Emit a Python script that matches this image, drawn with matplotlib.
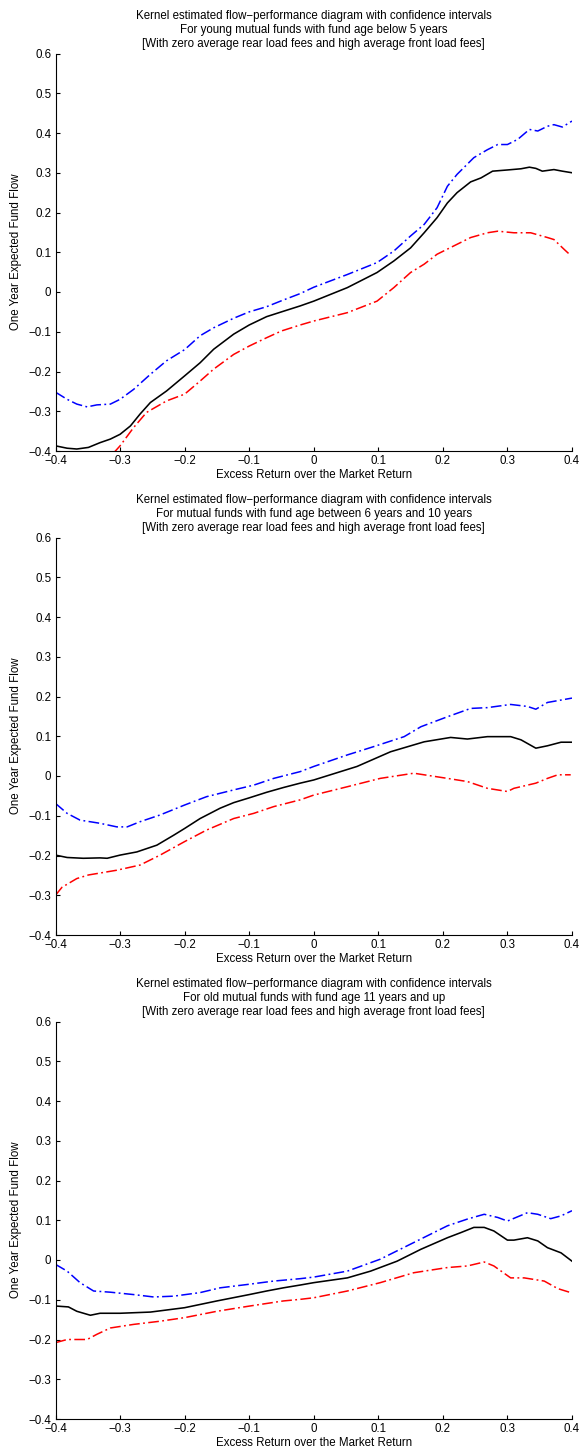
import matplotlib
matplotlib.use("Agg")
import matplotlib.pyplot as plt

plt.rcParams['font.family'] = ['Liberation Sans', 'DejaVu Sans']

# ---- data -------------------------------------------------------------
young_mid_x = [-0.400, -0.382, -0.367, -0.349, -0.331, -0.315, -0.300, -0.284, -0.269, -0.253,
               -0.228, -0.200, -0.176, -0.155, -0.124, -0.100, -0.073, -0.050, -0.021, 0.000,
               0.052, 0.098, 0.124, 0.150, 0.171, 0.191, 0.207, 0.222, 0.243, 0.259,
               0.277, 0.300, 0.321, 0.334, 0.344, 0.354, 0.372, 0.385, 0.400]
young_mid_y = [-0.387, -0.393, -0.395, -0.391, -0.379, -0.370, -0.358, -0.337, -0.307, -0.278,
               -0.249, -0.211, -0.178, -0.144, -0.106, -0.083, -0.062, -0.050, -0.035, -0.023,
               0.011, 0.049, 0.078, 0.111, 0.149, 0.187, 0.224, 0.250, 0.277, 0.287,
               0.304, 0.307, 0.310, 0.314, 0.311, 0.304, 0.308, 0.304, 0.300]
young_up_x = [-0.400, -0.382, -0.367, -0.351, -0.336, -0.315, -0.300, -0.279, -0.253, -0.228,
              -0.200, -0.176, -0.155, -0.124, -0.100, -0.073, -0.050, -0.021, 0.000, 0.052,
              0.098, 0.124, 0.150, 0.171, 0.191, 0.207, 0.222, 0.248, 0.269, 0.285,
              0.300, 0.316, 0.334, 0.347, 0.362, 0.372, 0.385, 0.400]
young_up_y = [-0.252, -0.270, -0.282, -0.289, -0.284, -0.282, -0.270, -0.245, -0.207, -0.173,
              -0.145, -0.110, -0.090, -0.066, -0.050, -0.037, -0.022, -0.004, 0.012, 0.044,
              0.074, 0.103, 0.141, 0.170, 0.212, 0.266, 0.296, 0.338, 0.358, 0.371,
              0.371, 0.384, 0.409, 0.405, 0.417, 0.421, 0.415, 0.430]
young_lo_x = [-0.310, -0.300, -0.279, -0.259, -0.228, -0.200, -0.176, -0.155, -0.124, -0.100,
              -0.073, -0.050, -0.021, 0.000, 0.052, 0.098, 0.124, 0.150, 0.171, 0.191,
              0.217, 0.243, 0.269, 0.285, 0.310, 0.336, 0.362, 0.372, 0.388, 0.396]
young_lo_y = [-0.405, -0.387, -0.341, -0.303, -0.274, -0.257, -0.224, -0.194, -0.157, -0.136,
              -0.115, -0.098, -0.083, -0.073, -0.052, -0.023, 0.011, 0.049, 0.070, 0.095,
              0.116, 0.137, 0.149, 0.153, 0.149, 0.149, 0.137, 0.132, 0.107, 0.095]

middle_mid_x = [-0.400, -0.382, -0.357, -0.331, -0.320, -0.300, -0.274, -0.243, -0.217, -0.200,
                -0.176, -0.145, -0.124, -0.100, -0.073, -0.047, -0.021, 0.000, 0.067, 0.119,
                0.171, 0.212, 0.238, 0.269, 0.305, 0.321, 0.344, 0.362, 0.383, 0.400]
middle_mid_y = [-0.199, -0.205, -0.207, -0.206, -0.207, -0.199, -0.191, -0.174, -0.149, -0.132,
                -0.107, -0.081, -0.067, -0.055, -0.041, -0.029, -0.018, -0.010, 0.024, 0.061,
                0.086, 0.097, 0.093, 0.099, 0.099, 0.091, 0.070, 0.076, 0.085, 0.085]
middle_up_x = [-0.400, -0.382, -0.362, -0.331, -0.305, -0.289, -0.269, -0.238, -0.200, -0.166,
               -0.124, -0.093, -0.062, -0.021, 0.000, 0.052, 0.093, 0.140, 0.166, 0.207,
               0.243, 0.269, 0.305, 0.331, 0.344, 0.362, 0.400]
middle_up_y = [-0.069, -0.094, -0.111, -0.119, -0.128, -0.128, -0.115, -0.098, -0.073, -0.052,
               -0.035, -0.023, -0.006, 0.011, 0.024, 0.053, 0.074, 0.099, 0.124, 0.149,
               0.170, 0.172, 0.180, 0.175, 0.168, 0.185, 0.196]
middle_lo_x = [-0.400, -0.390, -0.367, -0.349, -0.305, -0.269, -0.238, -0.200, -0.166, -0.124,
               -0.093, -0.062, -0.021, 0.000, 0.052, 0.103, 0.155, 0.207, 0.238, 0.269,
               0.300, 0.310, 0.344, 0.362, 0.378, 0.398]
middle_lo_y = [-0.300, -0.280, -0.258, -0.249, -0.237, -0.224, -0.199, -0.165, -0.136, -0.107,
               -0.094, -0.077, -0.060, -0.048, -0.027, -0.006, 0.007, -0.006, -0.014, -0.031,
               -0.039, -0.031, -0.018, -0.006, 0.003, 0.003]

old_mid_x = [-0.398, -0.380, -0.367, -0.346, -0.331, -0.300, -0.253, -0.200, -0.150, -0.100,
             -0.073, -0.047, -0.021, 0.000, 0.052, 0.088, 0.129, 0.166, 0.207, 0.228,
             0.248, 0.264, 0.279, 0.300, 0.310, 0.331, 0.347, 0.362, 0.383, 0.400]
old_mid_y = [-0.116, -0.118, -0.129, -0.139, -0.134, -0.134, -0.131, -0.120, -0.103, -0.087,
             -0.078, -0.070, -0.063, -0.057, -0.045, -0.028, -0.003, 0.027, 0.056, 0.069,
             0.082, 0.082, 0.073, 0.050, 0.050, 0.056, 0.048, 0.031, 0.018, -0.003]
old_up_x = [-0.400, -0.382, -0.362, -0.341, -0.315, -0.279, -0.248, -0.217, -0.176, -0.145,
            -0.100, -0.062, -0.021, 0.000, 0.052, 0.103, 0.155, 0.207, 0.238, 0.264,
            0.285, 0.300, 0.331, 0.347, 0.367, 0.383, 0.400]
old_up_y = [-0.011, -0.028, -0.057, -0.078, -0.081, -0.087, -0.093, -0.091, -0.082, -0.070,
            -0.061, -0.053, -0.047, -0.043, -0.028, 0.002, 0.044, 0.086, 0.103, 0.115,
            0.107, 0.098, 0.119, 0.115, 0.104, 0.111, 0.124]
old_lo_x = [-0.400, -0.382, -0.351, -0.336, -0.315, -0.279, -0.238, -0.200, -0.150, -0.100,
            -0.047, -0.021, 0.000, 0.052, 0.103, 0.155, 0.207, 0.238, 0.264, 0.279,
            0.305, 0.326, 0.357, 0.378, 0.398]
old_lo_y = [-0.208, -0.200, -0.200, -0.187, -0.171, -0.162, -0.154, -0.145, -0.129, -0.116,
            -0.103, -0.099, -0.095, -0.078, -0.057, -0.032, -0.019, -0.015, -0.005, -0.015,
            -0.045, -0.045, -0.053, -0.072, -0.082]

titles = [
    "Kernel estimated flow\u2212performance diagram with confidence intervals\n"
    "For young mutual funds with fund age below 5 years\n"
    "[With zero average rear load fees and high average front load fees]",
    "Kernel estimated flow\u2212performance diagram with confidence intervals\n"
    "For mutual funds with fund age between 6 years and 10 years\n"
    "[With zero average rear load fees and high average front load fees]",
    "Kernel estimated flow\u2212performance diagram with confidence intervals\n"
    "For old mutual funds with fund age 11 years and up\n"
    "[With zero average rear load fees and high average front load fees]",
]
x_label = "Excess Return over the Market Return"
y_label = "One Year Expected Fund Flow"
x_ticks = [-0.4, -0.3, -0.2, -0.1, 0.0, 0.1, 0.2, 0.3, 0.4]
x_tick_labels = ["\u22120.4", "\u22120.3", "\u22120.2", "\u22120.1", "0", "0.1", "0.2", "0.3", "0.4"]
y_ticks = [-0.4, -0.3, -0.2, -0.1, 0.0, 0.1, 0.2, 0.3, 0.4, 0.5, 0.6]
y_tick_labels = ["\u22120.4", "\u22120.3", "\u22120.2", "\u22120.1", "0", "0.1", "0.2", "0.3",
                 "0.4", "0.5", "0.6"]

panels = [
    (young_mid_x, young_mid_y, young_up_x, young_up_y, young_lo_x, young_lo_y),
    (middle_mid_x, middle_mid_y, middle_up_x, middle_up_y, middle_lo_x, middle_lo_y),
    (old_mid_x, old_mid_y, old_up_x, old_up_y, old_lo_x, old_lo_y),
]

# ---- figure -----------------------------------------------------------
W, H = 580, 1452
fig = plt.figure(figsize=(W / 100, H / 100), dpi=100)

block = H / 3.0
left_px, right_px = 55.5, 572.0
top_off, bot_off = 53.5, 451.0
fs = 8.3
dash_dot = (0, (7, 2.2, 1.2, 2.2))

for k, (title, data) in enumerate(zip(titles, panels)):
    mx, my, ux, uy, lx, ly = data
    top = 1 - (k * block + top_off) / H
    bot = 1 - (k * block + bot_off) / H
    ax = fig.add_axes([left_px / W, bot, (right_px - left_px) / W, top - bot])

    ax.plot(mx, my, color="black", lw=1.15, ls="-")
    ax.plot(ux, uy, color=(0, 0, 1), lw=1.1, ls=dash_dot)
    ax.plot(lx, ly, color=(1, 0, 0), lw=1.1, ls=dash_dot)

    ax.set_xlim(-0.4, 0.4)
    ax.set_ylim(-0.4, 0.6)
    ax.set_xticks(x_ticks)
    ax.set_xticklabels(x_tick_labels)
    ax.set_yticks(y_ticks)
    ax.set_yticklabels(y_tick_labels)

    for side in ("top", "right"):
        ax.spines[side].set_visible(False)
    for side in ("left", "bottom"):
        ax.spines[side].set_linewidth(0.8)
    ax.tick_params(direction="in", length=3.2, width=0.8, labelsize=fs, colors="black")
    ax.tick_params(axis="x", pad=3.2)
    ax.tick_params(axis="y", pad=3.0)

    ax.set_title(title, fontsize=fs, pad=5, linespacing=1.18)
    ax.set_xlabel(x_label, fontsize=fs, va="top")
    ax.xaxis.set_label_coords(0.5, -0.045)
    ax.set_ylabel(y_label, fontsize=fs)
    ax.yaxis.set_label_coords(-0.064, 0.5)

fig.savefig("out.png", dpi=100)
